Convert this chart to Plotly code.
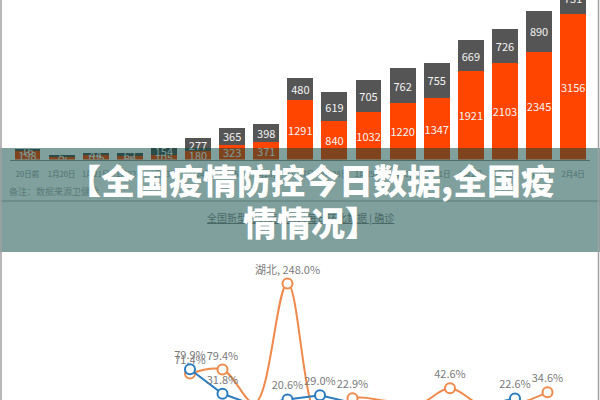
import plotly.graph_objects as go

# ---- bar chart data (daily new confirmed cases) ----
categories = ["20日前", "1月20日", "1月21日", "1月22日", "1月23日", "1月24日", "1月25日",
              "1月26日", "1月27日", "1月28日", "1月29日", "1月30日", "1月31日",
              "2月1日", "2月2日", "2月3日", "2月4日"]
hubei_new = [198, 72, 105, 69, 105, 180, 323, 371, 1291, 840, 1032, 1220, 1347, 1921, 2103, 2345, 3156]
other_new = [16, 5, 44, 62, 154, 277, 365, 398, 480, 619, 705, 762, 755, 669, 726, 890, 731]

# ---- line chart data (growth rate, %) ----
rate_idx = list(range(12))
blue_rate = [79.9, 31.8, 9.0, 20.6, 29.0, 13.9, 8.1, -0.9, -11.4, 8.5, 22.6, -18.0]
orange_rate = [71.4, 79.4, 14.0, 248.0, -21.0, 22.9, 18.2, 10.4, 42.6, 8.5, 11.5, 34.6]
peak_label = "湖北"

title_line1 = "【全国疫情防控今日数据,全国疫"
title_line2 = "情情况】"
note_text = "备注：数据来源卫健委"
link_text = "全国新型冠状病毒肺炎每日环比数据 | 确诊"

W, H = 600, 400
def px(x):
    return x / W
def py(y):
    return (H - y) / H

ORANGE = "#FF4500"
GRAY = "#555555"
FONT = "Noto Sans CJK SC"

fig = go.Figure()

fig.add_trace(go.Bar(
    x=categories, y=hubei_new, text=[str(v) for v in hubei_new],
    marker=dict(color=ORANGE, line=dict(width=0)),
    textposition="inside", insidetextanchor="middle", textangle=0,
    constraintext="none", textfont=dict(size=11, color="#f4f4f4", family=FONT),
    xaxis="x", yaxis="y", showlegend=False, cliponaxis=True,
))
fig.add_trace(go.Bar(
    x=categories, y=other_new, text=[str(v) for v in other_new],
    marker=dict(color=GRAY, line=dict(width=0)),
    textposition="inside", insidetextanchor="middle", textangle=0,
    constraintext="none", textfont=dict(size=11, color="#f4f4f4", family=FONT),
    xaxis="x", yaxis="y", showlegend=False, cliponaxis=True,
))

BLUE = "#2B7BBF"
LORANGE = "#EF8A4C"
blue_text = [f"{v:.1f}%" for v in blue_rate]
orange_text = [f"{v:.1f}%" for v in orange_rate]
peak_i = orange_rate.index(max(orange_rate))
orange_text[peak_i] = f"{peak_label}, {orange_rate[peak_i]:.1f}%"

fig.add_trace(go.Scatter(
    x=rate_idx, y=orange_rate, text=orange_text, mode="lines+markers+text",
    textposition="top center", textfont=dict(size=11, color="#7a7a7a", family=FONT),
    line=dict(color=LORANGE, width=2, shape="spline", smoothing=1),
    marker=dict(symbol="circle", size=10, color="white", line=dict(color=LORANGE, width=2)),
    xaxis="x2", yaxis="y2", showlegend=False, cliponaxis=False,
))
fig.add_trace(go.Scatter(
    x=rate_idx, y=blue_rate, text=blue_text, mode="lines+markers+text",
    textposition="top center", textfont=dict(size=11, color="#7a7a7a", family=FONT),
    line=dict(color=BLUE, width=2),
    marker=dict(symbol="circle", size=10, color="white", line=dict(color=BLUE, width=2)),
    xaxis="x2", yaxis="y2", showlegend=False, cliponaxis=False,
))

k = 0.046
base = 159.5
fig.update_layout(
    width=W, height=H, autosize=False,
    margin=dict(l=0, r=0, t=0, b=0, pad=0),
    paper_bgcolor="white", plot_bgcolor="rgba(0,0,0,0)",
    barmode="stack", bargap=0.24,
    font=dict(family=FONT),
    xaxis=dict(domain=[px(10.45), px(590.2)], type="category", showline=True,
               linecolor="#9a9a9a", linewidth=1, showgrid=False, zeroline=False,
               ticks="outside", ticklen=7, tickcolor="rgba(0,0,0,0)", tickangle=0,
               tickfont=dict(size=7.5, color="#9a9a9a", family=FONT), anchor="y",
               automargin=False, fixedrange=True),
    yaxis=dict(domain=[py(base), 1], range=[0, base / k], visible=False, anchor="x"),
    xaxis2=dict(domain=[0, 1], range=[-190 / 32.5, (600 - 190) / 32.5], visible=False, anchor="y2"),
    yaxis2=dict(domain=[0, py(255)], range=[(410 - 400) / 0.51, (410 - 255) / 0.51],
                visible=False, anchor="x2"),
)

shapes = [
    dict(type="line", xref="paper", yref="paper", x0=0, x1=1, y0=py(201), y1=py(201),
         line=dict(color="#b4b4b4", width=1), layer="above"),
    dict(type="rect", xref="paper", yref="paper", x0=0, x1=1, y0=py(252), y1=py(148),
         fillcolor="rgba(0,66,60,0.5)", line=dict(width=0), layer="above"),
    dict(type="line", xref="paper", yref="paper", x0=px(1), x1=px(1), y0=0, y1=1,
         line=dict(color="#a0a0a0", width=1.5), layer="above"),
    dict(type="line", xref="paper", yref="paper", x0=px(598.5), x1=px(598.5), y0=0, y1=1,
         line=dict(color="#a0a0a0", width=1.5), layer="above"),
]
fig.update_layout(shapes=shapes)

annotations = [
    dict(text=note_text, x=px(7), y=py(191), xref="paper", yref="paper",
         xanchor="left", yanchor="middle", showarrow=False,
         font=dict(size=9, color="#5b7b78", family=FONT)),
    dict(text=f"<u>{link_text}</u>", x=px(300), y=py(218), xref="paper", yref="paper",
         xanchor="center", yanchor="middle", showarrow=False,
         font=dict(size=10, color="#4a6866", family=FONT)),
    dict(text=title_line1, x=px(311), y=py(180), xref="paper", yref="paper",
         xanchor="center", yanchor="middle", showarrow=False,
         font=dict(size=34, color="white", family=FONT, weight=900)),
    dict(text=title_line2, x=px(311), y=py(221), xref="paper", yref="paper",
         xanchor="center", yanchor="middle", showarrow=False,
         font=dict(size=34, color="white", family=FONT, weight=900)),
]
fig.update_layout(annotations=annotations)

fig.write_html("out.html",
               config={"displayModeBar": False},
               post_script="document.body.style.margin='0';document.body.style.overflow='hidden';")
